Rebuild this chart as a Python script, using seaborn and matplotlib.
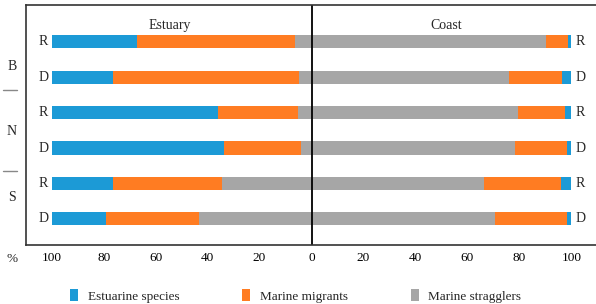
import numpy as np
import pandas as pd
import matplotlib.pyplot as plt
import seaborn as sns
from matplotlib.patches import Patch

sns.set_style("white")
plt.rcParams['font.family'] = ['Liberation Serif', 'DejaVu Serif']

# data (% of individuals), rows top to bottom
rows = ['B-R', 'B-D', 'N-R', 'N-D', 'S-R', 'S-D']
groups = ['B', 'N', 'S']
types = ['R', 'D', 'R', 'D', 'R', 'D']

est_estuarine = [33.0, 23.5, 64.0, 66.2, 23.4, 20.8]
est_migrants = [60.5, 71.5, 30.7, 29.9, 42.2, 35.7]
est_stragglers = [6.5, 5.0, 5.3, 3.9, 34.4, 43.5]

coast_estuarine = [1.2, 3.5, 2.5, 1.8, 4.0, 1.5]
coast_migrants = [8.4, 20.4, 17.9, 20.0, 29.8, 27.9]
coast_stragglers = [90.4, 76.1, 79.6, 78.2, 66.2, 70.6]

categories = ['Estuarine species', 'Marine migrants', 'Marine stragglers']
colors = ['#1C9AD6', '#FF7C22', '#A6A6A6']

df = pd.DataFrame({'row': rows,
                   'est_e': est_estuarine, 'est_m': est_migrants, 'est_s': est_stragglers,
                   'co_e': coast_estuarine, 'co_m': coast_migrants, 'co_s': coast_stragglers})

# stacked from zero outward: stragglers, then migrants, then estuarine
df['est_l1'] = -(df['est_s'] + df['est_m'] + df['est_e'])
df['est_l2'] = -(df['est_s'] + df['est_m'])
df['est_l3'] = -df['est_s']
df['co_l1'] = df['co_s'] + df['co_m'] + df['co_e']
df['co_l2'] = df['co_s'] + df['co_m']
df['co_l3'] = df['co_s']

fs = 10
fs_small = 9.5

fig = plt.figure(figsize=(5.96, 3.04), dpi=100)
ax = fig.add_axes([26 / 596, 59 / 304, 570 / 596, 240 / 304])

bw = 0.376
for side in ['est', 'co']:
    for lvl, col in zip(['l1', 'l2', 'l3'], colors):
        sns.barplot(data=df, x=f'{side}_{lvl}', y='row', orient='h', color=col,
                    width=bw, errorbar=None, linewidth=0, saturation=1, ax=ax)

ax.set_xlim(-109.9, 109.5)
ax.set_ylim(5.74, -1.04)
ax.axvline(0, color='black', lw=1.3)

for s in ['left', 'top', 'bottom']:
    ax.spines[s].set_color('#333333')
    ax.spines[s].set_linewidth(1.2)
ax.spines['right'].set_visible(False)

ticks = [-100, -80, -60, -40, -20, 0, 20, 40, 60, 80, 100]
ax.set_xticks(ticks)
ax.set_xticklabels([str(abs(t)) for t in ticks], fontsize=fs_small)
ax.tick_params(axis='x', direction='in', length=3, width=0.8, pad=5, colors='#333333')
ax.tick_params(axis='x', labelcolor='black')
ax.set_yticks([])
ax.set_xlabel('')
ax.set_ylabel('')

ax.text(-54.4, -0.47, 'Estuary', ha='center', va='center', fontsize=fs)
ax.text(52, -0.47, 'Coast', ha='center', va='center', fontsize=fs)

for i, t in enumerate(types):
    ax.text(-101.3, i, t, ha='right', va='center', fontsize=fs)
    ax.text(101.5, i, t, ha='left', va='center', fontsize=fs)

for g, y in zip(groups, [0.71, 2.53, 4.39]):
    ax.text(-115.3, y, g, ha='center', va='center', fontsize=fs)
for y in [1.35, 3.64]:
    ax.plot([-118.8, -113.2], [y, y], color='#888888', lw=1, clip_on=False)

fig.text(12 / 596, 1 - 259 / 304, '%', ha='center', va='center', fontsize=fs_small)

handles = [Patch(facecolor=c, edgecolor='none') for c in colors]
fig.legend(handles, categories, loc='center left', bbox_to_anchor=(70 / 596, 1 - 296 / 304),
           ncol=3, frameon=False, fontsize=fs_small, handlelength=0.6, handleheight=0.95,
           handletextpad=0.75, columnspacing=4.75, borderpad=0, borderaxespad=0)

fig.savefig('out.png', dpi=100)
